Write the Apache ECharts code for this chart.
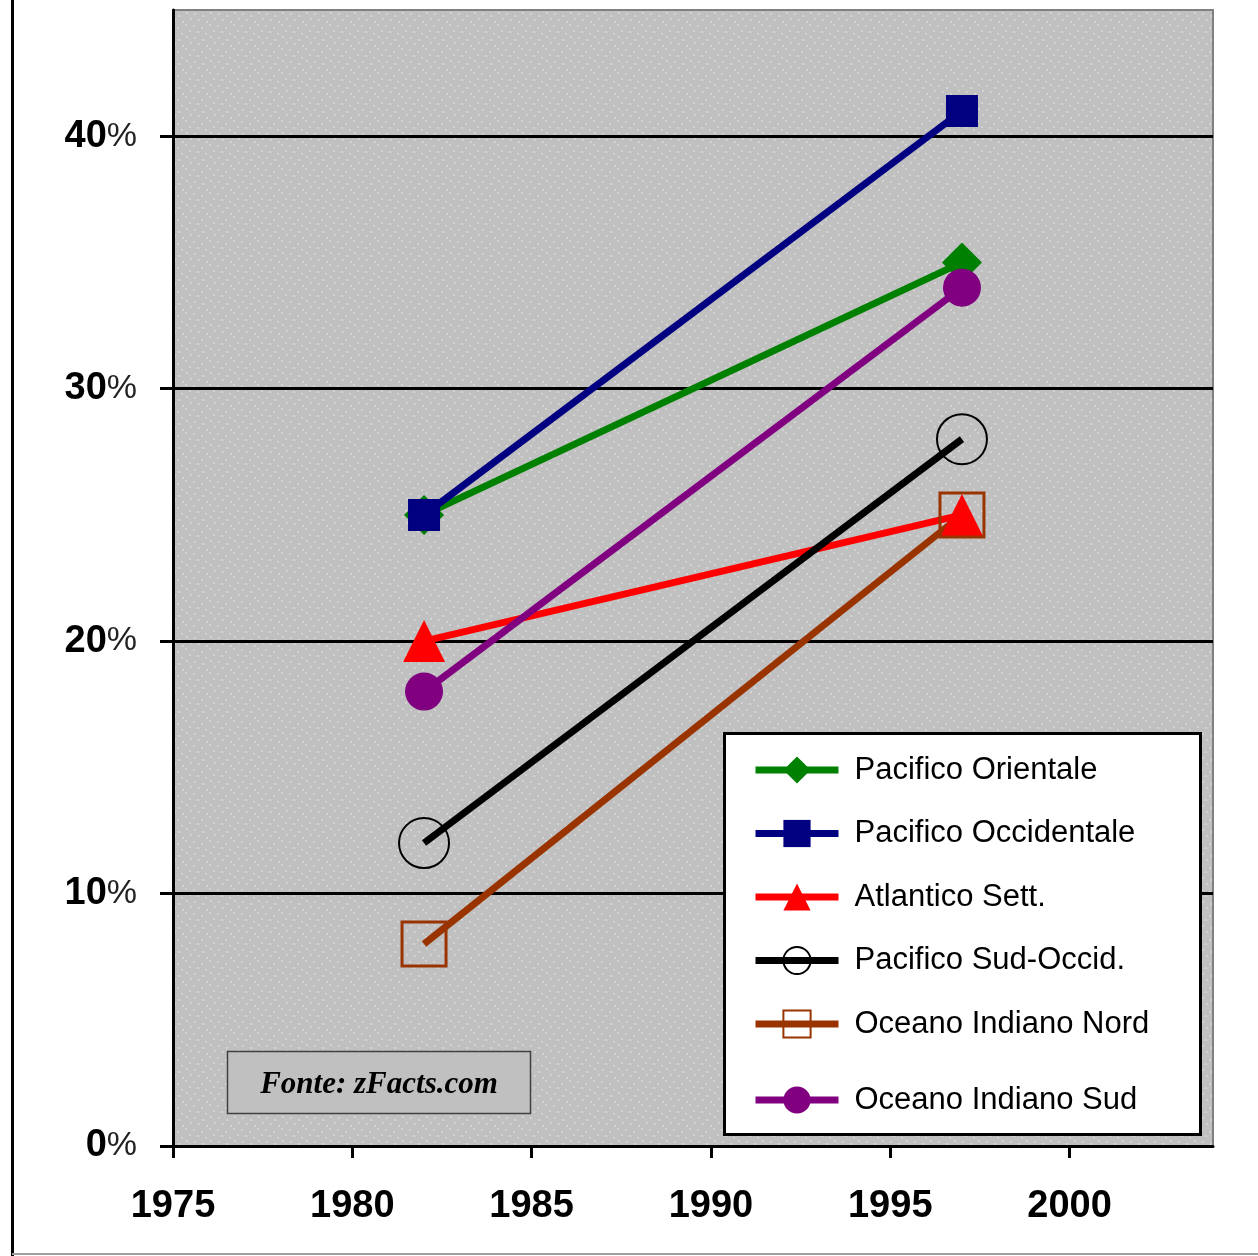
<!DOCTYPE html>
<html><head><meta charset="utf-8">
<script src="https://cdn.jsdelivr.net/npm/echarts@6/dist/echarts.min.js"></script>
<style>html,body{margin:0;padding:0;background:#fff}#c{width:1258px;height:1256px}</style>
</head><body><div id="c"></div>
<script>
// ---- data ----
const years = [1982, 1997];
const pacificoOrientale = [25, 35];
const pacificoOccidentale = [25, 41];
const atlanticoSett = [20, 25];
const pacificoSudOccid = [12, 28];
const indianoNord = [8, 25];
const indianoSud = [18, 34];
const seriesNames = ['Pacifico Orientale', 'Pacifico Occidentale', 'Atlantico Sett.', 'Pacifico Sud-Occid.', 'Oceano Indiano Nord', 'Oceano Indiano Sud'];
const xTicks = [1975, 1980, 1985, 1990, 1995, 2000];
const yTicks = [0, 10, 20, 30, 40];
const sourceText = 'Fonte: zFacts.com';

// ---- background pattern ----
function makePattern() {
  const c = document.createElement('canvas'); c.width = 24; c.height = 24;
  const g = c.getContext('2d');
  g.fillStyle = '#c0c0c0'; g.fillRect(0, 0, 24, 24);
  g.fillStyle = '#d2d2d2';
  const dots = [[1,1],[9,3],[17,0],[5,7],[13,9],[21,6],[2,13],[10,15],[18,12],[6,19],[14,21],[22,18]];
  dots.forEach(d => g.fillRect(d[0], d[1], 2, 2));
  return c;
}

const pts = arr => years.map((y, i) => [y, arr[i]]);
const LW = 7;
function mk(name, arr, color, symbol, size, itemStyle) {
  return {
    name, type: 'line', data: pts(arr), symbol, symbolSize: size,
    color, lineStyle: { width: LW, color }, itemStyle: itemStyle || { color },
    emphasis: { disabled: true }, silent: true, animation: false
  };
}

const chart = echarts.init(document.getElementById('c'));
const legendBase = {
  orient: 'vertical', left: 752, itemWidth: 83, itemHeight: 34, padding: 0,
  selectedMode: false, z: 20,
  lineStyle: { width: 7 },
  textStyle: { fontFamily: 'Liberation Sans, Arial, sans-serif', fontSize: 31, color: '#000', lineHeight: 34, padding: [0, 0, 0, 11] }
};
chart.setOption({
  animation: false,
  grid: { left: 173, top: 10, width: 1040, height: 1136, show: true,
    backgroundColor: { image: makePattern(), repeat: 'repeat' },
    borderColor: '#808080', borderWidth: 2 },
  xAxis: {
    type: 'value', min: 1975, max: 2004, interval: 5,
    axisLine: { show: true, onZero: false, lineStyle: { color: '#000', width: 3 } },
    axisTick: { show: true, length: 12, customValues: xTicks, lineStyle: { color: '#000', width: 3 } },
    splitLine: { show: false },
    axisLabel: { margin: 42, customValues: xTicks, formatter: v => String(v),
      fontFamily: 'Liberation Sans, Arial, sans-serif', fontWeight: 'bold', fontSize: 38, color: '#000' }
  },
  yAxis: {
    type: 'value', min: 0, max: 45, interval: 10,
    axisLine: { show: true, lineStyle: { color: '#000', width: 3 } },
    axisTick: { show: true, length: 13, customValues: yTicks, lineStyle: { color: '#000', width: 3 } },
    splitLine: { show: true, lineStyle: { color: '#000', width: 3 } },
    axisLabel: { margin: 36, customValues: yTicks,
      formatter: v => '{n|' + v + '}{p|%}',
      rich: {
        n: { fontFamily: 'Liberation Sans, Arial, sans-serif', fontWeight: 'bold', fontSize: 38, color: '#000' },
        p: { fontFamily: 'Liberation Sans, Arial, sans-serif', fontSize: 34, color: '#222' }
      } }
  },
  legend: [
    Object.assign({}, legendBase, { top: 753, itemGap: 29.5, data: seriesNames.slice(0, 5) }),
    Object.assign({}, legendBase, { top: 1083, data: seriesNames.slice(5) })
  ],
  graphic: [
    { type: 'rect', z: 10, shape: { x: 724.5, y: 733.5, width: 476, height: 401 },
      style: { fill: '#fff', stroke: '#000', lineWidth: 3 } },
    { type: 'rect', z: 10, shape: { x: 227.5, y: 1051.5, width: 303, height: 62 },
      style: { fill: '#c0c0c0', stroke: '#404040', lineWidth: 1.5 } },
    { type: 'text', z: 11, x: 379, y: 1085,
      style: { text: sourceText, font: 'italic bold 31px "Liberation Serif", "Times New Roman", serif',
        fill: '#000', align: 'center', verticalAlign: 'middle' } },
    { type: 'line', z: 10, shape: { x1: 12.5, y1: 0, x2: 12.5, y2: 1256 }, style: { stroke: '#000', lineWidth: 3 } },
    { type: 'line', z: 10, shape: { x1: 12, y1: 1254, x2: 1258, y2: 1254 }, style: { stroke: '#a0a0a0', lineWidth: 2 } }
  ],
  series: [
    mk(seriesNames[0], pacificoOrientale, '#008000', 'diamond', 40),
    mk(seriesNames[1], pacificoOccidentale, '#000080', 'rect', 32),
    mk(seriesNames[2], atlanticoSett, '#ff0000', 'triangle', 42),
    mk(seriesNames[3], pacificoSudOccid, '#000000', 'circle', 50, { color: 'rgba(0,0,0,0)', borderColor: '#000', borderWidth: 2 }),
    mk(seriesNames[4], indianoNord, '#993300', 'rect', 44, { color: 'rgba(0,0,0,0)', borderColor: '#993300', borderWidth: 3 }),
    mk(seriesNames[5], indianoSud, '#800080', 'circle', 38)
  ]
});
</script></body></html>
